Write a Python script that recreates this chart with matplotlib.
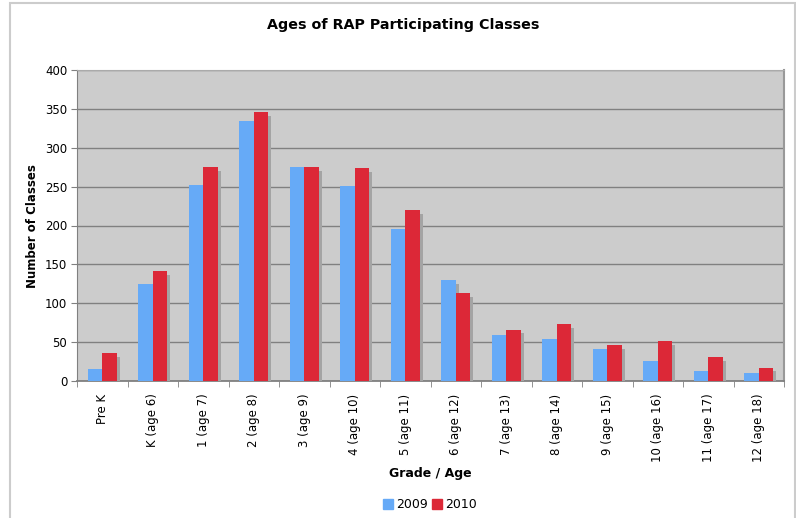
import numpy as np
import matplotlib
matplotlib.use("Agg")
import matplotlib.pyplot as plt
import matplotlib.patheffects as pe
from matplotlib.patches import Rectangle, Patch

# ---------------- data ----------------
grades = ["Pre K", "K (age 6)", "1 (age 7)", "2 (age 8)", "3 (age 9)",
          "4 (age 10)", "5 (age 11)", "6 (age 12)", "7 (age 13)", "8 (age 14)",
          "9 (age 15)", "10 (age 16)", "11 (age 17)", "12 (age 18)"]
classes_2009 = [15, 125, 252, 334, 275, 251, 196, 130, 59, 54, 41, 26, 13, 10]
classes_2010 = [36, 141, 275, 346, 275, 274, 220, 113, 66, 73, 46, 51, 31, 17]

BLUE = "#66aaf7"
RED = "#dc2837"
shadow = [pe.SimplePatchShadow(offset=(2.2, -2.6), shadow_rgbFace="#a4a4a4", alpha=1), pe.Normal()]

fig = plt.figure(figsize=(7.96, 5.18), dpi=100)
ax = fig.add_axes([77 / 796, 1 - 381 / 518, 707 / 796, 311 / 518])
ax.set_facecolor("#cccccc")

x = np.arange(len(grades))
w = 0.285
ax.bar(x - w / 2, classes_2009, w, color=BLUE, zorder=3, path_effects=shadow)
ax.bar(x + w / 2, classes_2010, w, color=RED, zorder=3, path_effects=shadow)

ax.set_xlim(-0.5, len(grades) - 0.5)
ax.set_ylim(0, 400)
ax.set_yticks(range(0, 401, 50))
ax.yaxis.grid(True, color="#808080", lw=1, zorder=1)
ax.set_axisbelow(True)

ax.set_xticks(x)
ax.set_xticklabels(grades, rotation=90, fontsize=8.5)
ax.set_xticks(np.arange(-0.5, len(grades), 1), minor=True)
ax.tick_params(axis="x", which="major", length=0, pad=9)
ax.tick_params(axis="x", which="minor", length=4, color="#808080")
ax.tick_params(axis="y", length=4, color="#808080", labelsize=8.5, pad=3)

for side in ["left", "bottom"]:
    ax.spines[side].set_color("#808080")
ax.spines["bottom"].set_linewidth(1.3)
ax.spines["top"].set_color("#aaaaaa")
ax.spines["right"].set_color("#999999")
ax.spines["right"].set_linewidth(1.5)

fig.text(0.506, 0.952, "Ages of RAP Participating Classes", ha="center", va="center",
         fontsize=10.3, fontweight="bold")
fig.text(32 / 796, 1 - 226 / 518, "Number of Classes", rotation=90, ha="center", va="center",
         fontsize=8.5, fontweight="bold")
fig.text(430 / 796, 1 - 474 / 518, "Grade / Age", ha="center", va="center",
         fontsize=9, fontweight="bold")

handles = [Patch(color=BLUE, label="2009"), Patch(color=RED, label="2010")]
ax.legend(handles=handles, loc="center", bbox_to_anchor=(430 / 796, 1 - 505 / 518),
          bbox_transform=fig.transFigure, ncol=2, frameon=False, fontsize=9,
          handlelength=0.8, handleheight=0.8, handletextpad=0.2, columnspacing=0.4)

fig.patches.append(Rectangle((10 / 796, -0.01), 785 / 796, 1 - 3 / 518 + 0.01, transform=fig.transFigure,
                             fill=False, edgecolor="#cccccc", lw=1.5))

fig.savefig("out.png", dpi=100)
